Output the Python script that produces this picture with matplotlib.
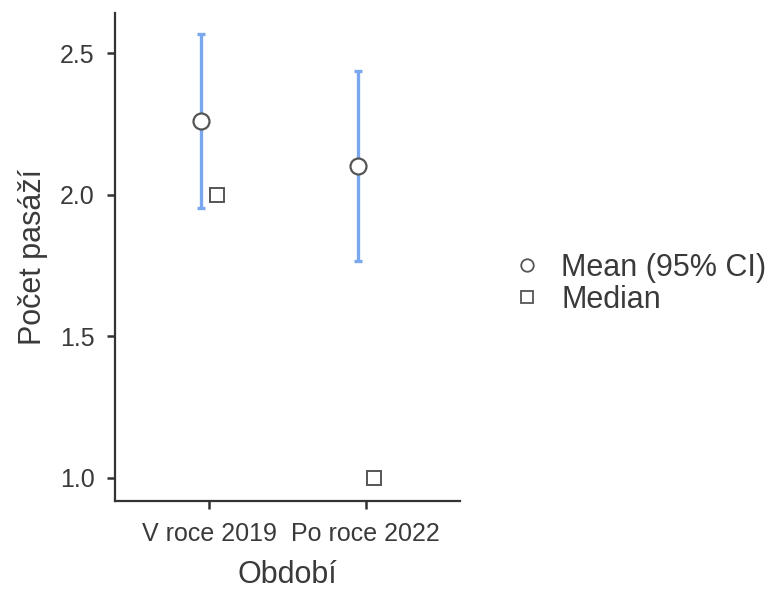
import matplotlib.pyplot as plt
from matplotlib.lines import Line2D

plt.rcParams['font.family'] = ['Liberation Sans', 'DejaVu Sans']

# Values.
groups = ['V roce 2019', 'Po roce 2022']
means = [2.262, 2.103]
ci_low = [1.953, 1.766]
ci_high = [2.568, 2.436]
medians = [2.0, 1.0]

dodge = 0.05
grey = '#555555'
blue = '#7ba7ef'
txt = '#3a3a3a'

fig = plt.figure(figsize=(7.78, 5.89), dpi=100)
ax = fig.add_axes([0.1478, 0.1494, 0.4434, 0.8285])

xs = list(range(len(groups)))
mx = [x - dodge for x in xs]
dx = [x + dodge for x in xs]

err = [[m - lo for m, lo in zip(means, ci_low)],
       [hi - m for m, hi in zip(means, ci_high)]]
ax.errorbar(mx, means, yerr=err, fmt='none', ecolor=blue, elinewidth=2.4,
            capsize=3, capthick=2.4, zorder=2)
ax.plot(mx, means, 'o', ms=11.5, mfc='white', mec=grey, mew=1.6,
        linestyle='none', zorder=3)
ax.plot(dx, medians, 's', ms=9.5, mfc='white', mec=grey, mew=1.4,
        linestyle='none', zorder=3)

ax.set_xlim(-0.6, 1.6)
ax.set_ylim(0.918, 2.642)
ax.set_xticks(xs)
ax.set_xticklabels(groups)
ax.set_yticks([1.0, 1.5, 2.0, 2.5])
ax.set_yticklabels(['1.0', '1.5', '2.0', '2.5'])

for side in ['top', 'right']:
    ax.spines[side].set_visible(False)
for side in ['left', 'bottom']:
    ax.spines[side].set_color('#333333')
    ax.spines[side].set_linewidth(1.6)
ax.tick_params(axis='both', length=6, width=1.8, color='#333333',
               labelsize=18, labelcolor=txt)
ax.tick_params(axis='x', pad=9)
ax.tick_params(axis='y', pad=8.5)

ax.set_xlabel('Období', fontsize=22, color=txt, labelpad=10)
ax.set_ylabel('Počet pasáží', fontsize=22, color=txt, labelpad=9)

# Legend.
handles = [
    Line2D([], [], marker='o', ms=9, mfc='white', mec=grey, mew=1.3, linestyle='none'),
    Line2D([], [], marker='s', ms=8.5, mfc='white', mec=grey, mew=1.3, linestyle='none'),
]
fig.legend(handles, ['Mean (95% CI)', 'Median'], loc='center left',
           bbox_to_anchor=(0.654, 0.518), frameon=False, fontsize=22,
           labelcolor=txt, handletextpad=0.52, labelspacing=0.08,
           handlelength=1.2, borderpad=0, borderaxespad=0)

fig.savefig('out.png', dpi=100)
